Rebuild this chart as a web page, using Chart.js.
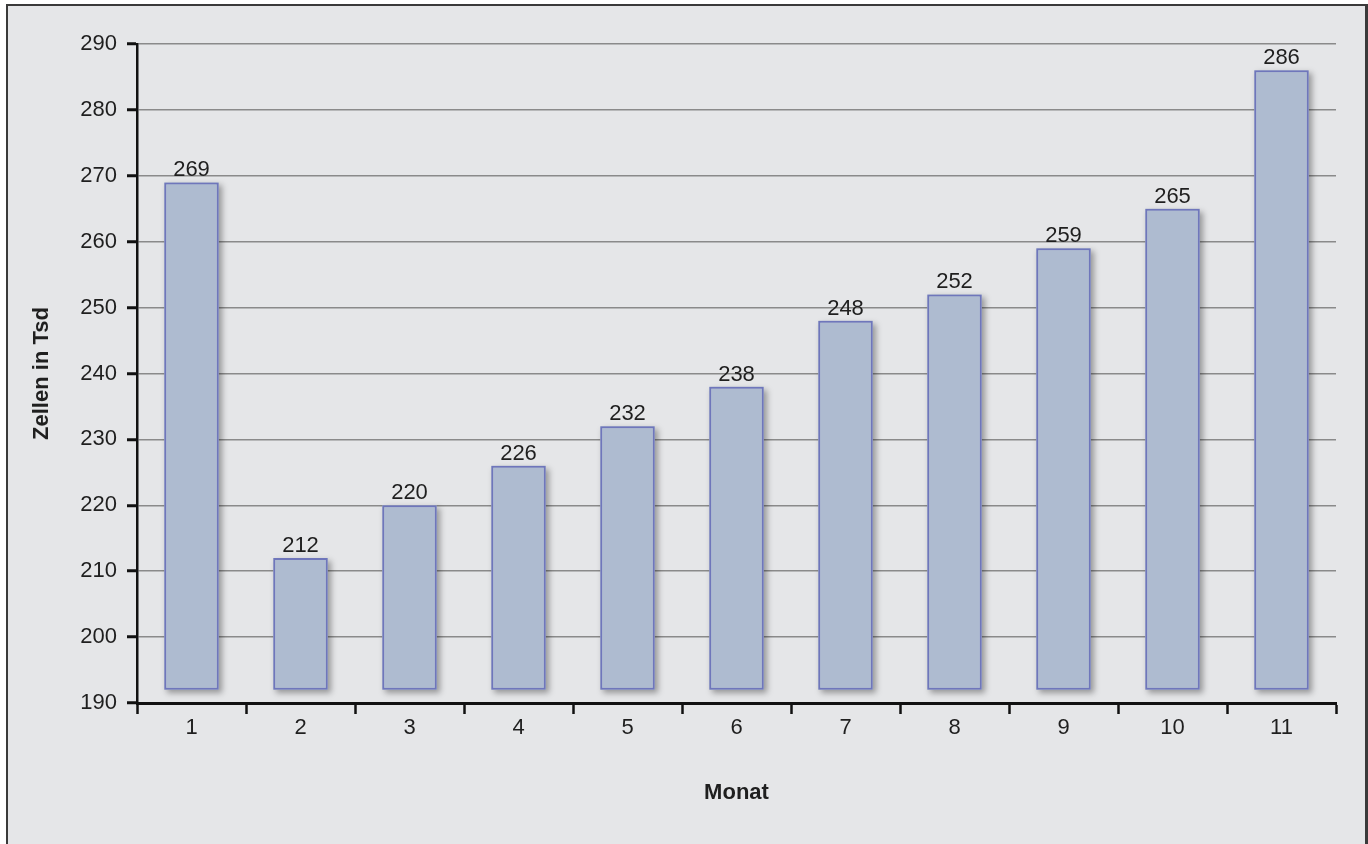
<!DOCTYPE html>
<html>
<head>
<meta charset="utf-8">
<title>Zellen in Tsd je Monat</title>
<script src="https://cdn.jsdelivr.net/npm/chart.js@4.4.1/dist/chart.umd.min.js"></script>
<style>
    html, body { margin: 0; padding: 0; background: #ffffff; }
    #frame {
        position: absolute; left: 6px; top: 4px; width: 1362px; height: 840px;
        box-sizing: border-box; border: 2px solid #3a3a3a; border-right-width: 3px; border-bottom: none;
        background: #e5e6e8;
    }
    #wrap { position: absolute; left: 0; top: 0; width: 1368px; height: 844px; }
</style>
</head>
<body>
<div id="frame"></div>
<div id="wrap"><canvas id="chart" width="1368" height="844"></canvas></div>
<script>
    // Daten
    var months = ['1', '2', '3', '4', '5', '6', '7', '8', '9', '10', '11'];
    var cells = [269, 212, 220, 226, 232, 238, 248, 252, 259, 265, 286];
    var barBase = 192;
    var yMin = 190, yMax = 290, yStep = 10;

    var txt = '#1f1f1f';
    var fontFam = '"Liberation Sans", Arial, sans-serif';

    // Werte über den Balken
    var valueLabels = {
        id: 'valueLabels',
        afterDatasetsDraw: function(chart) {
            var ctx = chart.ctx;
            var meta = chart.getDatasetMeta(0);
            ctx.save();
            ctx.font = '22px ' + fontFam;
            ctx.fillStyle = txt;
            ctx.textAlign = 'center';
            ctx.textBaseline = 'alphabetic';
            meta.data.forEach(function(bar, i) {
                ctx.fillText(String(cells[i]), bar.x, bar.y - 6);
            });
            ctx.restore();
        }
    };

    // leichter Schatten hinter den Balken (BarElement clippt, daher eigener Schatten)
    var barShadow = {
        id: 'barShadow',
        beforeDatasetsDraw: function(chart) {
            var ctx = chart.ctx;
            var meta = chart.getDatasetMeta(0);
            ctx.save();
            ctx.shadowColor = 'rgba(0,0,0,0.35)';
            ctx.shadowBlur = 6;
            ctx.shadowOffsetX = 3;
            ctx.shadowOffsetY = 3;
            ctx.fillStyle = '#aebbd0';
            meta.data.forEach(function(bar) {
                var w = bar.width;
                ctx.fillRect(bar.x - w / 2, bar.y, w, bar.base - bar.y);
            });
            ctx.restore();
        }
    };

    new Chart(document.getElementById('chart'), {
        type: 'bar',
        data: {
            labels: months,
            datasets: [{
                data: cells,
                base: barBase,
                backgroundColor: '#aebbd0',
                borderColor: '#6f76bb',
                borderWidth: 2,
                borderSkipped: false,
                barPercentage: 0.5,
                categoryPercentage: 1.0
            }]
        },
        options: {
            responsive: false,
            animation: false,
            devicePixelRatio: 1,
            layout: { padding: { left: 0, top: 44, right: 32, bottom: 0 } },
            plugins: {
                legend: { display: false },
                tooltip: { enabled: false }
            },
            scales: {
                x: {
                    afterFit: function(scale) { scale.height = 141; },
                    grid: {
                        offset: true,
                        drawOnChartArea: false,
                        drawTicks: true,
                        tickLength: 11,
                        tickColor: '#111111',
                        tickWidth: 2.5
                    },
                    border: { display: true, color: '#111111', width: 3 },
                    ticks: {
                        color: txt,
                        font: { family: fontFam, size: 22 },
                        padding: 1
                    },
                    title: {
                        display: true,
                        text: 'Monat',
                        color: txt,
                        font: { family: fontFam, size: 22, weight: 'bold' },
                        padding: { top: 0, bottom: 38 }
                    }
                },
                y: {
                    min: yMin,
                    max: yMax,
                    afterFit: function(scale) { scale.width = 137; },
                    grid: {
                        color: '#8a8a8a',
                        lineWidth: 1.5,
                        drawTicks: true,
                        tickLength: 10,
                        tickColor: '#111111',
                        tickWidth: 3
                    },
                    border: { display: true, color: '#111111', width: 2.5 },
                    ticks: {
                        stepSize: yStep,
                        color: txt,
                        font: { family: fontFam, size: 22 },
                        padding: 10
                    },
                    title: {
                        display: true,
                        text: 'Zellen in Tsd',
                        color: txt,
                        font: { family: fontFam, size: 22, weight: 'bold' },
                        padding: { top: 29, bottom: 0 }
                    }
                }
            }
        },
        plugins: [barShadow, valueLabels]
    });
</script>
</body>
</html>
